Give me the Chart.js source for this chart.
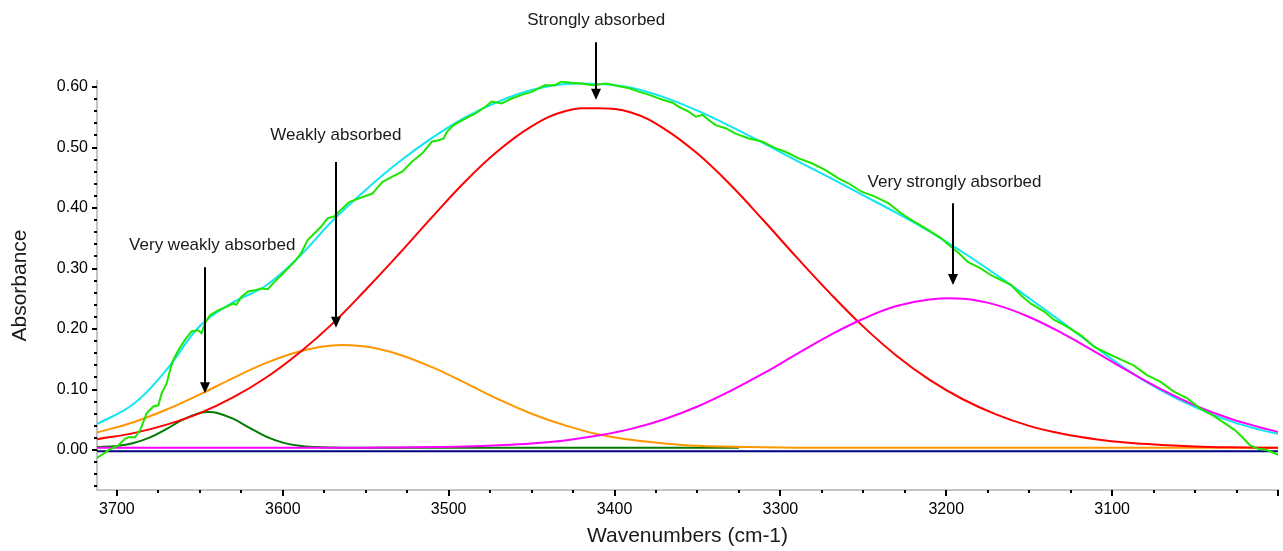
<!DOCTYPE html>
<html>
<head>
<meta charset="utf-8">
<script src="https://cdn.jsdelivr.net/npm/chart.js@4.4.0/dist/chart.umd.min.js"></script>
<style>
  html, body { margin: 0; padding: 0; background: #fff; }
  #wrap { width: 1283px; height: 551px; }
</style>
</head>
<body>
<div id="wrap"><canvas id="grafico" width="1283" height="551"></canvas></div>
<script>
// wavenumbers (cm-1) used for the fitted bands
const bandWn = [3712, 3690, 3670, 3650, 3630, 3610, 3590, 3570, 3550, 3530, 3510, 3490, 3470, 3450, 3430, 3410,
  3390, 3370, 3350, 3330, 3310, 3290, 3270, 3250, 3230, 3210, 3190, 3170, 3150, 3130, 3110, 3090, 3070, 3050, 3030, 3010, 3000];

const fitSum = [0.043, 0.076, 0.133, 0.205, 0.244, 0.272, 0.320, 0.379, 0.430, 0.476, 0.516, 0.550, 0.576, 0.595, 0.605, 0.605,
  0.599, 0.583, 0.561, 0.535, 0.507, 0.478, 0.450, 0.421, 0.392, 0.361, 0.327, 0.290, 0.251, 0.211, 0.170, 0.131, 0.098, 0.071, 0.049, 0.033, 0.027];

const bandStrong = [0.018, 0.028, 0.042, 0.061, 0.087, 0.120, 0.161, 0.209, 0.265, 0.324, 0.385, 0.444, 0.495, 0.535, 0.560, 0.565,
  0.558, 0.531, 0.490, 0.438, 0.379, 0.318, 0.259, 0.204, 0.156, 0.116, 0.084, 0.059, 0.040, 0.027, 0.018, 0.012, 0.0085, 0.006, 0.0046, 0.004, 0.0038];

const bandWeak = [0.029, 0.046, 0.067, 0.092, 0.119, 0.144, 0.163, 0.173, 0.171, 0.158, 0.137, 0.111, 0.084, 0.060, 0.041, 0.026,
  0.017, 0.011, 0.007, 0.0055, 0.0047, 0.004, 0.004, 0.004, 0.004, 0.004, 0.004, 0.004, 0.004, 0.004, 0.004, 0.004, 0.004, 0.004, 0.004, 0.004, 0.004];

const bandVeryStrong = [0.004, 0.004, 0.004, 0.004, 0.004, 0.004, 0.004, 0.004, 0.004, 0.0042, 0.005, 0.006, 0.008, 0.011, 0.016, 0.024,
  0.035, 0.051, 0.072, 0.098, 0.127, 0.159, 0.190, 0.217, 0.238, 0.249, 0.250, 0.240, 0.220, 0.193, 0.162, 0.130, 0.100, 0.074, 0.053, 0.037, 0.030];

// very weakly absorbed band (narrow)
const veryWeakWn = [3712, 3700, 3690, 3680, 3670, 3660, 3650, 3645, 3640, 3630, 3620, 3610, 3600, 3590, 3580, 3570, 3560, 3325];
const bandVeryWeak = [0.005, 0.0068, 0.0116, 0.021, 0.035, 0.0506, 0.0613, 0.063, 0.0618, 0.0519, 0.0366, 0.0222, 0.0123, 0.0071, 0.005, 0.0043, 0.004, 0.004];

const baseWn = [3712, 3000];
const baseline = [-0.002, -0.002];

// measured spectrum
const measuredWn = [3712, 3705, 3699, 3695, 3693, 3689, 3686, 3682, 3678, 3675,
  3673, 3670, 3668, 3666, 3663, 3659, 3655, 3651, 3649, 3647,
  3644, 3639, 3633, 3630, 3628, 3625, 3621, 3617, 3613, 3609,
  3605, 3601, 3597, 3593, 3589, 3585, 3581, 3577, 3573, 3569,
  3565, 3560, 3554, 3546, 3540, 3534, 3528, 3522, 3516, 3510,
  3506, 3503, 3501, 3497, 3490, 3484, 3478, 3474, 3468, 3462,
  3456, 3450, 3442, 3436, 3432, 3426, 3420, 3413, 3405, 3395,
  3391, 3385, 3379, 3371, 3365, 3361, 3355, 3351, 3347, 3343,
  3339, 3333, 3327, 3319, 3311, 3303, 3297, 3289, 3281, 3273,
  3265, 3259, 3251, 3243, 3235, 3227, 3219, 3211, 3203, 3199,
  3193, 3187, 3179, 3173, 3167, 3161, 3155, 3149, 3141, 3135,
  3129, 3119, 3111, 3103, 3095, 3087, 3079, 3071, 3063, 3055,
  3047, 3039, 3032, 3026, 3021, 3017, 3012, 3007, 3003, 3000];
const measuredAbs = [-0.013, 0.000, 0.008, 0.019, 0.021, 0.021, 0.033, 0.061, 0.072, 0.074,
  0.094, 0.110, 0.132, 0.149, 0.165, 0.182, 0.196, 0.198, 0.193, 0.209,
  0.223, 0.231, 0.238, 0.242, 0.240, 0.253, 0.262, 0.264, 0.267, 0.266,
  0.278, 0.289, 0.300, 0.311, 0.325, 0.347, 0.358, 0.369, 0.383, 0.386,
  0.397, 0.410, 0.416, 0.424, 0.443, 0.452, 0.460, 0.477, 0.490, 0.510,
  0.512, 0.515, 0.526, 0.537, 0.548, 0.556, 0.567, 0.576, 0.573, 0.581,
  0.587, 0.592, 0.603, 0.603, 0.609, 0.607, 0.606, 0.603, 0.606, 0.600,
  0.598, 0.592, 0.587, 0.579, 0.574, 0.567, 0.559, 0.551, 0.554, 0.545,
  0.537, 0.532, 0.523, 0.515, 0.510, 0.499, 0.493, 0.482, 0.474, 0.463,
  0.449, 0.441, 0.427, 0.419, 0.408, 0.391, 0.377, 0.364, 0.350, 0.340,
  0.327, 0.311, 0.300, 0.289, 0.281, 0.273, 0.256, 0.242, 0.229, 0.215,
  0.207, 0.190, 0.171, 0.160, 0.150, 0.140, 0.124, 0.113, 0.097, 0.086,
  0.069, 0.057, 0.044, 0.033, 0.020, 0.008, 0.002, 0.000, -0.004, -0.008];

// x tick labels shown on the axis
const xLabels = [3700, 3600, 3500, 3400, 3300, 3200, 3100];

// annotations: text, where the text sits, where the arrow points
const noteText = ['Strongly absorbed', 'Weakly absorbed', 'Very weakly absorbed', 'Very strongly absorbed'];
const noteTextWn = [3411, 3568, 3642.5, 3195];
const noteTextAbs = [0.711, 0.520, 0.339, 0.443];
const noteArrowWn = [3411, 3568, 3647, 3196];
const noteArrowTop = [0.674, 0.476, 0.302, 0.408];
const noteArrowTip = [0.579, 0.202, 0.094, 0.273];

const fonte = '"Liberation Sans", Arial, Helvetica, sans-serif';

function pts(xs, ys) {
  return xs.map((x, i) => ({ x: x, y: ys[i] }));
}

function serie(dados, cor, ordem, suave) {
  return {
    data: dados,
    borderColor: cor,
    backgroundColor: cor,
    borderWidth: 2,
    pointRadius: 0,
    fill: false,
    order: ordem,
    tension: suave ? 0.4 : 0
  };
}

// ticks (major/minor) and arrows with labels
const marcas = {
  id: 'marcas',
  afterDraw(chart) {
    const ctx = chart.ctx;
    const sx = chart.scales.x, sy = chart.scales.y;
    ctx.save();
    ctx.strokeStyle = '#000';
    ctx.lineWidth = 2;
    sy.ticks.forEach(t => {
      const py = Math.round(sy.getPixelForValue(t.value));
      const major = Math.round(t.value * 50) % 5 === 0;
      const len = major ? 5 : 3;
      ctx.beginPath();
      ctx.moveTo(sx.left - len, py);
      ctx.lineTo(sx.left, py);
      ctx.stroke();
    });
    sx.ticks.forEach(t => {
      const px = Math.round(sx.getPixelForValue(t.value));
      const major = Math.round(t.value) % 100 === 0;
      const len = major ? 6 : 3;
      ctx.beginPath();
      ctx.moveTo(px, sy.bottom);
      ctx.lineTo(px, sy.bottom + len);
      ctx.stroke();
    });

    ctx.font = '17px ' + fonte;
    ctx.textAlign = 'center';
    ctx.textBaseline = 'middle';
    noteText.forEach((txt, i) => {
      ctx.fillStyle = '#1a1a1a';
      ctx.fillText(txt, sx.getPixelForValue(noteTextWn[i]), sy.getPixelForValue(noteTextAbs[i]));
      const ax = Math.round(sx.getPixelForValue(noteArrowWn[i]));
      const y0 = sy.getPixelForValue(noteArrowTop[i]);
      const y1 = sy.getPixelForValue(noteArrowTip[i]);
      ctx.strokeStyle = '#000';
      ctx.fillStyle = '#000';
      ctx.lineWidth = 2;
      ctx.beginPath();
      ctx.moveTo(ax, y0);
      ctx.lineTo(ax, y1 - 8);
      ctx.stroke();
      ctx.beginPath();
      ctx.moveTo(ax, y1);
      ctx.lineTo(ax - 5, y1 - 11);
      ctx.lineTo(ax + 5, y1 - 11);
      ctx.closePath();
      ctx.fill();
    });
    ctx.restore();
  }
};

const ctx = document.getElementById('grafico').getContext('2d');
new Chart(ctx, {
  type: 'line',
  data: {
    datasets: [
      serie(pts(measuredWn, measuredAbs), '#1ee600', 0, false),
      serie(pts(bandWn, bandVeryStrong), '#ff00ff', 1, true),
      serie(pts(bandWn, bandStrong), '#ff0000', 2, true),
      serie(pts(bandWn, bandWeak), '#ff9600', 3, true),
      serie(pts(veryWeakWn, bandVeryWeak), '#007a00', 4, true),
      serie(pts(bandWn, fitSum), '#10e6f0', 5, true),
      serie(pts(baseWn, baseline), '#000080', 6, false)
    ]
  },
  options: {
    responsive: false,
    animation: false,
    layout: { padding: { top: 81, right: 5, left: 0, bottom: 0 } },
    plugins: { legend: { display: false }, tooltip: { enabled: false } },
    scales: {
      x: {
        type: 'linear',
        reverse: true,
        min: 3000,
        max: 3712,
        afterFit: s => { s.height = 61; s.paddingLeft = 0; s.paddingRight = 0; },
        grid: { display: false, drawTicks: false },
        border: { display: true, color: '#c4c4c4', width: 2 },
        ticks: {
          stepSize: 25,
          includeBounds: false,
          autoSkip: false,
          maxRotation: 0,
          padding: 10,
          color: '#000',
          font: { family: fonte, size: 16 },
          callback: v => xLabels.includes(Math.round(v)) ? String(Math.round(v)) : ''
        },
        title: {
          display: true,
          text: 'Wavenumbers (cm-1)',
          color: '#1a1a1a',
          font: { family: fonte, size: 21 },
          padding: { top: 0, bottom: 2 }
        }
      },
      y: {
        min: -0.066,
        max: 0.61,
        afterFit: s => { s.width = 97; s.paddingTop = 0; s.paddingBottom = 0; },
        grid: { display: false, drawTicks: false },
        border: { display: true, color: '#c4c4c4', width: 2 },
        ticks: {
          stepSize: 0.02,
          includeBounds: false,
          autoSkip: false,
          padding: 9,
          color: '#000',
          font: { family: fonte, size: 16 },
          callback: v => Math.round(v * 50) % 5 === 0 ? v.toFixed(2) : ''
        },
        title: {
          display: true,
          text: 'Absorbance',
          color: '#1a1a1a',
          font: { family: fonte, size: 21 },
          padding: { top: 8, bottom: 0 }
        }
      }
    }
  },
  plugins: [marcas]
});
</script>
</body>
</html>
